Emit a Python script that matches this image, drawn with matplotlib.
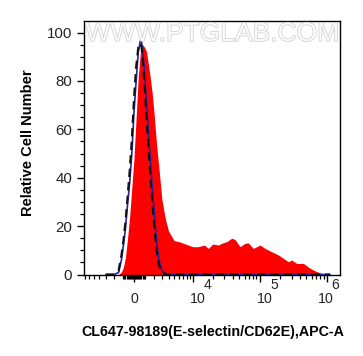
import numpy as np
import matplotlib
matplotlib.use("Agg")
import matplotlib.pyplot as plt
import matplotlib.patheffects as pe
import matplotlib.transforms as mtransforms

plt.rcParams['font.family'] = ['Liberation Sans', 'DejaVu Sans']

# ---- data (fluorescence intensity, raw units) ----
xs = [-3000, -2000, -1500, -1200, -1000, -800, -600, -400, -200, 0, 200, 400,
      600, 700, 800, 1000, 1200, 1500, 1800, 2000, 2300, 2600, 3000, 3500,
      4000, 5000, 6000, 7000, 8000, 10000, 12000, 15000, 17150, 20000, 24270,
      27270, 32400, 38470, 43090, 51170, 60750, 68040, 80730, 90720, 101500,
      120700, 151700, 190300, 226000, 268400, 301300, 357800, 449300, 564800,
      710600, 891800, 1120000]

red = [0, 0, 0, 1, 3, 7, 15, 24, 36, 48, 65, 82,
       92, 96, 95, 94, 92, 84, 75, 67, 54, 44, 31, 23,
       18, 14, 13.6, 13, 12.4, 11.5, 11.5, 12.2, 10.8, 12.6, 12.2,
       12.9, 13.6, 15.0, 14.5, 11.5, 12.9, 13.1, 10.8, 11.5, 12.2,
       10.8, 9.4, 8.1, 6.7, 5.3, 6.0, 4.6, 4.6, 2.6,
       1.2, 0.2, 0]

blue = [0, 0, 0.8, 6, 12, 19, 29, 38, 50, 67, 80, 92,
        96.6, 96, 93.5, 84, 70, 53, 36, 27, 14, 6, 1.5, 0.5,
        0, 0, 0, 0, 0, 0, 0, 0, 0, 0, 0,
        0, 0, 0, 0, 0, 0, 0, 0, 0, 0,
        0, 0, 0, 0, 0, 0, 0, 0, 0,
        0, 0, 0]

dashed = [0, 0, 1.5, 8, 14, 22, 32, 43, 56, 73, 86, 94,
          95.5, 94, 90, 79, 64, 46, 30, 21, 10, 4, 1, 0,
          0, 0, 0, 0, 0, 0, 0, 0, 0, 0, 0,
          0, 0, 0, 0, 0, 0, 0, 0, 0, 0,
          0, 0, 0, 0, 0, 0, 0, 0, 0,
          0, 0, 0]

major_ticks = [0, 1e4, 1e5, 1e6]
major_bases = ['0', '10', '10', '10']
major_exps = ['', '4', '5', '6']
y_ticks = [0, 20, 40, 60, 80, 100]

C = 2700.0


def fwd(x):
    return np.arcsinh(np.asarray(x, dtype=float) / C)


def inv(u):
    return C * np.sinh(np.asarray(u, dtype=float))


fig = plt.figure(figsize=(3.63, 3.56), dpi=100)
ax = fig.add_axes([0.2314, 0.2275, 0.7052, 0.7135])
ax.set_xscale('function', functions=(fwd, inv))

ax.fill_between(xs, 0, red, color='#ff0000', lw=0, zorder=2)
ax.plot(xs, blue, color='#22229a', lw=1.2, zorder=3)
ax.plot(xs, dashed, color='#111111', lw=1.5, ls=(0, (4, 2.5)), zorder=4)

ax.set_xlim(-7250, 1.578e6)
ax.set_ylim(-0.2, 104.8)

ax.set_xticks(major_ticks)
ax.set_xticklabels([''] * len(major_ticks))
minor = []
for m in range(1, 10):
    minor += [-m * 100, m * 100, m * 1000]
    if m <= 7:
        minor.append(-m * 1000)
    if m >= 2:
        minor += [m * 1e4, m * 1e5]
ax.set_xticks(minor, minor=True)
ax.set_yticks(y_ticks)
ax.set_yticks(np.arange(0, 105, 5), minor=True)

ax.tick_params(axis='both', which='major', length=5, width=1,
               labelcolor='#222222')
ax.tick_params(axis='y', which='major', labelsize=10.8, pad=3.5)
ax.tick_params(axis='both', which='minor', length=2.8, width=0.9)

# x tick labels: base "10" with a full-size raised exponent
base_off = [0, 5, 5, -1.4]
blend = mtransforms.blended_transform_factory(ax.transData, ax.transAxes)
for t, b, e, off in zip(major_ticks, major_bases, major_exps, base_off):
    trb = blend + mtransforms.ScaledTranslation(off / 100, 0, fig.dpi_scale_trans)
    ax.text(t, -0.109, b, transform=trb, ha='center', va='baseline',
            fontsize=10.2, color='#222222', clip_on=False)
    if e:
        tre = blend + mtransforms.ScaledTranslation((off + 5.6) / 100, 0, fig.dpi_scale_trans)
        ax.text(t, -0.056, e, transform=tre, ha='left', va='baseline',
                fontsize=10, color='#222222', clip_on=False)

for s in ax.spines.values():
    s.set_linewidth(1.0)

ax.set_ylabel('Relative Cell Number', fontsize=10.5, fontweight='bold')
ax.yaxis.set_label_coords(-0.19, 0.52)
ax.set_xlabel('CL647-98189(E-selectin/CD62E),APC-A', fontsize=10.3, fontweight='bold')
ax.xaxis.set_label_coords(0.504, -0.197)

ax.text(0.5, 0.949, 'WWW.PTGLAB.COM', transform=ax.transAxes, ha='center',
        va='center', fontsize=19, color='white', alpha=0.85, zorder=6,
        path_effects=[pe.withStroke(linewidth=1.0, foreground='#c4c4c4')])

fig.savefig('out.png', dpi=100)
